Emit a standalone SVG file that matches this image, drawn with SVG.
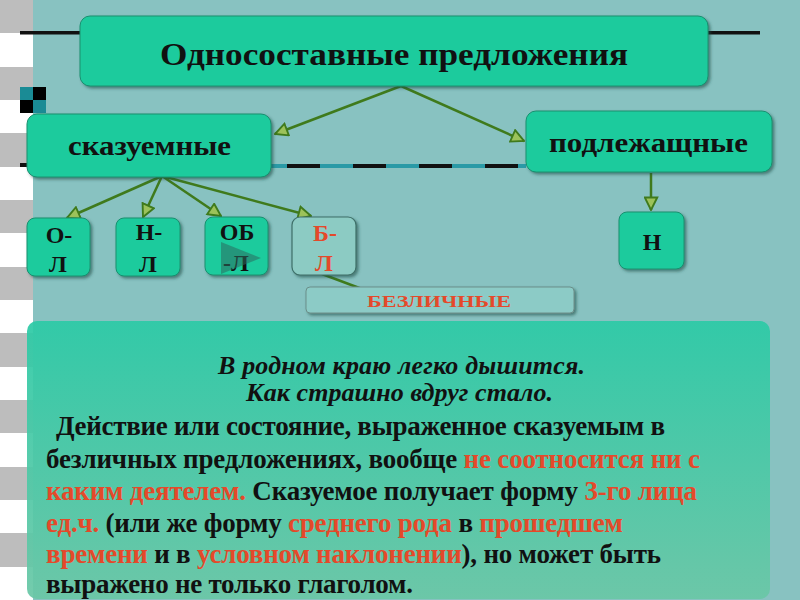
<svg xmlns="http://www.w3.org/2000/svg" width="800" height="600" viewBox="0 0 800 600">
<defs>
<style>
.node{fill:#1fcb9d;stroke:#17906f;stroke-width:1}
.t{font-family:"Liberation Serif","DejaVu Serif",serif;font-weight:bold;fill:#111}
.red{fill:#e4492a}
.conn{stroke:#3f7a1c;stroke-width:2.5;fill:none}
</style>
<marker id="ah" viewBox="0 0 12 12" refX="11" refY="6" markerWidth="15" markerHeight="15" markerUnits="userSpaceOnUse" orient="auto">
<path d="M1,1 L11,6 L1,11 Z" fill="#9cc25a" stroke="#3f7a1c" stroke-width="1.5"/>
</marker>
<filter id="sh" x="-10%" y="-10%" width="130%" height="130%">
<feDropShadow dx="2" dy="2" stdDeviation="1.5" flood-color="#1d4d45" flood-opacity="0.6"/>
</filter>
<linearGradient id="bg" x1="0" y1="0" x2="0" y2="1">
<stop offset="0" stop-color="#2ccaa6"/>
<stop offset="1" stop-color="#6ac7a6"/>
</linearGradient>
</defs>
<rect width="800" height="600" fill="#88c2c1"/>
<g id="strip">
<rect x="0" y="0" width="33" height="600" fill="#ffffff"/>
<rect x="0" y="0" width="33" height="33" fill="#bdbdbd"/>
<rect x="0" y="67" width="33" height="33" fill="#bdbdbd"/>
<rect x="0" y="133" width="33" height="34" fill="#bdbdbd"/>
<rect x="0" y="200" width="33" height="33" fill="#bdbdbd"/>
<rect x="0" y="267" width="33" height="33" fill="#bdbdbd"/>
<rect x="0" y="333" width="33" height="34" fill="#bdbdbd"/>
<rect x="0" y="400" width="33" height="33" fill="#bdbdbd"/>
<rect x="0" y="467" width="33" height="33" fill="#bdbdbd"/>
<rect x="0" y="533" width="33" height="34" fill="#bdbdbd"/>
</g>
<g id="decor">
<rect x="20" y="31" width="62" height="3.5" fill="#111"/>
<rect x="706" y="31" width="54" height="3.5" fill="#111"/>
<rect x="20" y="87" width="13" height="13" fill="#1a8b95"/>
<rect x="33" y="87" width="13" height="13" fill="#000"/>
<rect x="20" y="100" width="13" height="13" fill="#000"/>
<rect x="33" y="100" width="13" height="13" fill="#1a8b95"/>
<rect x="20" y="163" width="7" height="4" fill="#111"/>
<line x1="271" y1="166" x2="287" y2="166" stroke="#2a9aa6" stroke-width="4"/>
<line x1="287" y1="166" x2="526" y2="166" stroke="#111" stroke-width="4" stroke-dasharray="33 33"/>
<line x1="320" y1="166" x2="526" y2="166" stroke="#2a9aa6" stroke-width="4" stroke-dasharray="33 33"/>
</g>
<g id="connectors">
<line class="conn" x1="401" y1="86" x2="275" y2="134" marker-end="url(#ah)"/>
<line class="conn" x1="401" y1="86" x2="524" y2="141" marker-end="url(#ah)"/>
<line class="conn" x1="162" y1="176" x2="67" y2="218" marker-end="url(#ah)"/>
<line class="conn" x1="162" y1="176" x2="143" y2="217" marker-end="url(#ah)"/>
<line class="conn" x1="162" y1="176" x2="221" y2="216" marker-end="url(#ah)"/>
<line class="conn" x1="162" y1="176" x2="311" y2="216" marker-end="url(#ah)"/>
<line class="conn" x1="651" y1="173" x2="651" y2="210" marker-end="url(#ah)"/>
<line class="conn" x1="322" y1="274" x2="362" y2="289"/>
</g>
<g id="main">
<rect class="node" x="80" y="16" width="628" height="70" rx="10" filter="url(#sh)"/>
<text class="t" x="160" y="65" font-size="32" textLength="468" lengthAdjust="spacingAndGlyphs">Односоставные предложения</text>
</g>
<g id="skaz">
<rect class="node" x="27" y="114" width="244" height="63" rx="10" filter="url(#sh)"/>
<text class="t" x="68" y="155" font-size="27" textLength="163" lengthAdjust="spacingAndGlyphs">сказуемные</text>
</g>
<g id="podl">
<rect class="node" x="526" y="111" width="246" height="61" rx="10" filter="url(#sh)"/>
<text class="t" x="549" y="152" font-size="27" textLength="199" lengthAdjust="spacingAndGlyphs">подлежащные</text>
</g>
<g id="ol">
<rect class="node" x="27" y="218" width="63" height="58" rx="8" filter="url(#sh)"/>
<text class="t" x="59" y="243" font-size="24" text-anchor="middle">О-</text>
<text class="t" x="58" y="272" font-size="24" text-anchor="middle">Л</text>
</g>
<g id="nl">
<rect class="node" x="116" y="218" width="64" height="58" rx="8" filter="url(#sh)"/>
<text class="t" x="149" y="240" font-size="24" text-anchor="middle">Н-</text>
<text class="t" x="148" y="272" font-size="24" text-anchor="middle">Л</text>
</g>
<g id="obl">
<rect class="node" x="205" y="217" width="63" height="58" rx="8" filter="url(#sh)"/>
<text class="t" x="237" y="240" font-size="24" text-anchor="middle">ОБ</text>
<text class="t" x="236" y="271" font-size="24" text-anchor="middle">-Л</text>
<path d="M221,242 L261,258 L221,274 Z" fill="#2b6b5e" opacity="0.55"/>
</g>
<g id="bl">
<rect x="292" y="217" width="64" height="58" rx="8" fill="#8ccbc3" stroke="#3e6f68" stroke-width="1.2" filter="url(#sh)"/>
<text class="t red" x="325" y="241" font-size="24" text-anchor="middle">Б-</text>
<text class="t red" x="324" y="271" font-size="24" text-anchor="middle">Л</text>
</g>
<g id="n">
<rect class="node" x="619" y="212" width="65" height="57" rx="8" filter="url(#sh)"/>
<text class="t" x="652" y="250" font-size="24" text-anchor="middle">Н</text>
</g>
<g id="bezl">
<rect x="306" y="287" width="268" height="26" rx="4" fill="#8ccbc6" stroke="#6b8f8a" stroke-width="1" filter="url(#sh)"/>
<text class="t red" x="367" y="307" font-size="17" textLength="144" lengthAdjust="spacingAndGlyphs">БЕЗЛИЧНЫЕ</text>
</g>
<g id="textbox">
<rect x="27" y="321" width="743" height="278" rx="10" fill="url(#bg)" opacity="0.93"/>
<text class="t" x="218" y="374" font-size="26" font-style="italic" textLength="367">В родном краю легко дышится.</text>
<text class="t" x="246" y="401" font-size="26" font-style="italic" textLength="307">Как страшно вдруг стало.</text>
<text class="t" font-size="27" x="56" y="435" textLength="609">Действие или состояние, выраженное сказуемым в</text>
<text class="t" font-size="27" x="46" y="468" textLength="654">безличных предложениях, вообще <tspan class="red">не соотносится ни с</tspan></text>
<text class="t" font-size="27" x="46" y="500" textLength="651"><tspan class="red">каким деятелем.</tspan> Сказуемое получает форму <tspan class="red">3-го лица</tspan></text>
<text class="t" font-size="27" x="46" y="532" textLength="577"><tspan class="red">ед.ч.</tspan> (или же форму <tspan class="red">среднего рода</tspan> в <tspan class="red">прошедшем</tspan></text>
<text class="t" font-size="27" x="46" y="563" textLength="615"><tspan class="red">времени</tspan> и в <tspan class="red">условном наклонении</tspan>), но может быть</text>
<text class="t" font-size="27" x="46" y="593" textLength="367">выражено не только глаголом.</text>
</g>
</svg>
